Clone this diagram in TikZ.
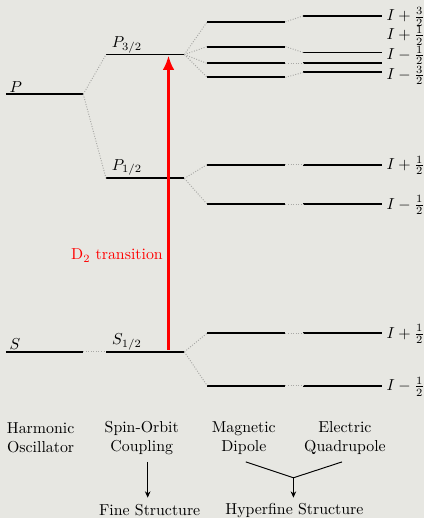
\documentclass[tikz,border=0pt]{standalone}
\usetikzlibrary{arrows.meta,positioning}
\definecolor{paper}{HTML}{E7E7E2}
\definecolor{linkgray}{HTML}{A9A9A6}

\begin{document}
\begin{tikzpicture}[x=0.625pt,y=-0.625pt,level/.style={line width=1.2pt,draw=black},link/.style={densely dotted,draw=linkgray,line width=0.6pt},trans/.style={-{Latex[length=3.2mm,width=2.6mm]},line width=1.7pt,draw=red},arr/.style={-{Stealth[length=4pt,width=3.5pt]},semithick},captext/.style={align=center,inner sep=1pt},flabel/.style={anchor=west,inner sep=0.5pt}]
\fill[paper] (0,0) rectangle (428,523);
% gross structure
\coordinate (P-l) at (6,95); \coordinate (P-r) at (84,95);
\coordinate (S-l) at (6,355); \coordinate (S-r) at (84,355);
\draw[level] (P-l)--(P-r);
\draw[level] (S-l)--(S-r);
\node (P) at (16,88) {$P$};
\node (S) at (15,347) {$S$};
% fine structure
\coordinate (P3-l) at (107,55); \coordinate (P3-r) at (186,55);
\coordinate (P1-l) at (107,180); \coordinate (P1-r) at (186,180);
\coordinate (S1-l) at (107,355); \coordinate (S1-r) at (186,355);
\draw[level] (P3-l)--(P3-r);
\draw[level] (P1-l)--(P1-r);
\draw[level] (S1-l)--(S1-r);
\node (P3) at (128,45) {$P_{3/2}$};
\node (P1) at (128,169) {$P_{1/2}$};
\node (S1) at (128,345) {$S_{1/2}$};
\draw[link] (P-r)--(P3-l);
\draw[link] (P-r)--(P1-l);
\draw[link] (S-r)--(S1-l);
% hyperfine structure
\foreach \n/\yd/\yq in {a/22/16,b/47/53,c/64/64,d/78/73,e/166/166,f/206/206,g/336/336,h/389/389}{
  \coordinate (md-\n-l) at (209,\yd); \coordinate (md-\n-r) at (288,\yd);
  \coordinate (eq-\n-l) at (306,\yq); \coordinate (eq-\n-r) at (385,\yq);
  \draw[level] (md-\n-l)--(md-\n-r);
  \draw[level] (eq-\n-l)--(eq-\n-r);
  \draw[link] (md-\n-r)--(eq-\n-l);
}
\foreach \n in {a,b,c,d} \draw[link] (P3-r)--(md-\n-l);
\foreach \n in {e,f} \draw[link] (P1-r)--(md-\n-l);
\foreach \n in {g,h} \draw[link] (S1-r)--(md-\n-l);
\node[flabel] (Fa) at (389,17) {$I+\frac{3}{2}$};
\node[flabel] (Fb) at (389,36) {$I+\frac{1}{2}$};
\node[flabel] (Fc) at (389,56) {$I-\frac{1}{2}$};
\node[flabel] (Fd) at (389,76) {$I-\frac{3}{2}$};
\node[flabel] (Fe) at (389,167) {$I+\frac{1}{2}$};
\node[flabel] (Ff) at (389,207) {$I-\frac{1}{2}$};
\node[flabel] (Fg) at (389,337) {$I+\frac{1}{2}$};
\node[flabel] (Fh) at (389,390) {$I-\frac{1}{2}$};
% D2 line
\coordinate (d2-low) at (170,353);
\coordinate (d2-up) at (170,56);
\draw[trans] (d2-low)--(d2-up);
\node[text=red] (d2) at (118,258) {D$_2$ transition};
% captions
\node[captext] (ho) at (41,442) {Harmonic\\Oscillator};
\node[captext] (so) at (143,442) {Spin-Orbit\\Coupling};
\node[captext] (md) at (246,442) {Magnetic\\Dipole};
\node[captext] (eq) at (348,442) {Electric\\Quadrupole};
\node (fs) at (151,515) {Fine Structure};
\node (hfs) at (297,515) {Hyperfine Structure};
\coordinate (fs-top) at (149,466);
\coordinate (join) at (296,482);
\coordinate (md-foot) at (248,466);
\coordinate (eq-foot) at (345,466);
\draw[arr] (fs-top)--(fs-top |- hfs.north);
\draw[semithick] (md-foot)--(join)--(eq-foot);
\draw[arr] (join)--(join |- hfs.north);
\end{tikzpicture}
\end{document}
